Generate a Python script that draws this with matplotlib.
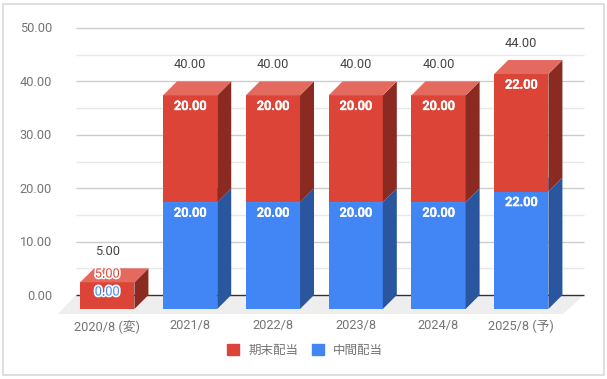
import matplotlib
matplotlib.use('Agg')
import matplotlib.pyplot as plt
import matplotlib.patheffects as pe
from matplotlib.patches import Rectangle

plt.rcParams['font.family'] = ['Roboto', 'Noto Sans CJK JP', 'DejaVu Sans']

# データ
categories = ['2020/8 (変)', '2021/8', '2022/8', '2023/8', '2024/8', '2025/8 (予)']
interim = [0, 20, 20, 20, 20, 22]
final = [5, 20, 20, 20, 20, 22]
totals = [5, 40, 40, 40, 40, 44]
y_ticks = [0, 10, 20, 30, 40, 50]
minor_ticks = [5, 15, 25, 35, 45]

RED, RED_TOP, RED_SIDE = '#DB4437', '#E4695F', '#8A2A21'
BLUE, BLUE_TOP, BLUE_SIDE = '#4285F4', '#6FA2F6', '#2A56A0'
GREY = '#757575'

W, H = 607, 379
STEP = 82.8       # px per category
UNIT = 5.34       # px per value
X0, Y0 = 107.3, 309   # px of first bar centre, of the front base
DX = 14 / STEP    # depth in data units
DY = 14 / UNIT
BAR = 0.655
FS = 9.2
NUDGE = 1 / UNIT  # text sits a pixel lower than va='center' gives

fig = plt.figure(figsize=(W / 100, H / 100), dpi=100)
ax = fig.add_axes([0, 0, 1, 1])
ax.set_xlim(-X0 / STEP, (W - X0) / STEP)
ax.set_ylim((Y0 - H) / UNIT, Y0 / UNIT)
ax.axis('off')


def px(x, y):
    return (x - X0) / STEP, (Y0 - y) / UNIT


# 枠
fig.add_artist(Rectangle((2.5 / W, 1 - 375 / H), 601 / W, 371.5 / H, transform=fig.transFigure,
                         fill=False, edgecolor='#D9D9D9', linewidth=1.2))

# 床と目盛り線
left, right = px(76, 0)[0], px(584, 0)[0]
floor = px(0, 314)[1]
ax.fill([px(58, 0)[0], left, right, px(563, 0)[0]],
        [floor, DY, DY, floor], color='#EEEEEE', zorder=1, linewidth=0)
ax.hlines([v + DY for v in minor_ticks], left, right, color='#E8E8E8', linewidth=1, zorder=1.5)
ax.hlines([v + DY for v in y_ticks[1:]], left, right, color='#CCCCCC', linewidth=1, zorder=1.6)
ax.hlines(DY, left, right, color='#333333', linewidth=1, zorder=1.7)

for v in y_ticks:
    ax.text(px(52, 0)[0], v + DY - NUDGE, f'{v:.2f}', ha='right', va='center', fontsize=FS, color=GREY)


def box(i, bottom, top, front, side, roof):
    l, r = i - BAR / 2, i + BAR / 2
    ax.bar(i, top - bottom, BAR, bottom=bottom, color=front, linewidth=0, zorder=3)
    ax.fill([r, r + DX, r + DX, r], [bottom, bottom + DY, top + DY, top], color=side, linewidth=0, zorder=3)
    ax.fill([l, l + DX, r + DX, r], [top, top + DY, top + DY, top], color=roof, linewidth=0, zorder=3)


thick = [pe.withStroke(linewidth=0.4, foreground='white')]
for i, (a, b, t) in enumerate(zip(interim, final, totals)):
    if a > 0:
        box(i, 0, a, BLUE, BLUE_SIDE, BLUE_TOP)
    box(i, a, a + b, RED, RED_SIDE, RED_TOP)
    ax.text(i, t + DY + 18 / UNIT - NUDGE, f'{t:.2f}', ha='center', va='center', fontsize=FS,
            color='#444444', zorder=5)
    if a > 0:
        ax.text(i, a - 10 / UNIT - NUDGE, f'{a:.2f}', ha='center', va='center', fontsize=FS,
                color='white', fontweight=500, zorder=5, path_effects=thick)
        ax.text(i, a + b - 10 / UNIT - NUDGE, f'{b:.2f}', ha='center', va='center', fontsize=FS,
                color='white', fontweight=500, zorder=5, path_effects=thick)
    ax.text(i, px(0, 325)[1] - NUDGE, categories[i], ha='center', va='center', fontsize=FS, color=GREY)

# 2020/8 のラベルは白縁つき
ax.text(0, px(0, 273)[1] - NUDGE, f'{final[0]:.2f}', ha='center', va='center', fontsize=FS, color=RED, zorder=6,
        path_effects=[pe.withStroke(linewidth=2.5, foreground='white')])
ax.text(0, px(0, 291)[1] - NUDGE, f'{interim[0]:.2f}', ha='center', va='center', fontsize=FS, color=BLUE, zorder=6,
        path_effects=[pe.withStroke(linewidth=2.5, foreground='white')])

# 凡例
handles = [Rectangle((0, 0), 1, 1, color=RED), Rectangle((0, 0), 1, 1, color=BLUE)]
leg = ax.legend(handles, ['期末配当', '中間配当'], ncol=2, frameon=False, fontsize=9,
                loc='center', bbox_to_anchor=(305 / W, 1 - 350 / H), bbox_transform=fig.transFigure,
                handlelength=1, handleheight=1, handletextpad=0.7, columnspacing=1.1, labelcolor=GREY)

fig.savefig('out.png', dpi=100)
